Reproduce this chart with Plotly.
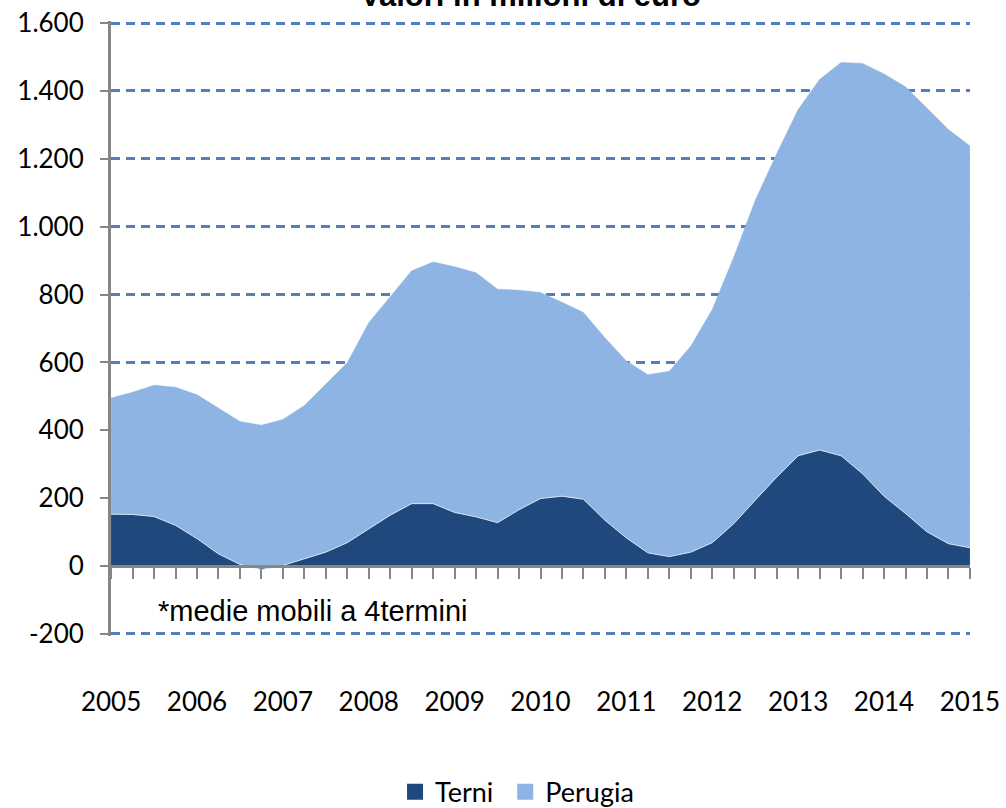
import plotly.graph_objects as go

years = list(range(2005, 2016))
year_labels = [str(y) for y in years]
quarters = [2005 + i / 4 for i in range(41)]

terni = [153, 152, 146, 120, 81, 36, 5, -10, 2, 22, 41, 69, 110, 150, 184, 184,
         158, 145, 128, 166, 199, 206, 197, 135, 83, 39, 28, 41, 69, 125, 194,
         262, 325, 342, 325, 272, 206, 155, 101, 66, 54]
perugia = [495, 512, 533, 527, 505, 465, 426, 415, 432, 473, 535, 599, 717, 795,
           870, 896, 882, 864, 816, 813, 806, 777, 747, 673, 604, 564, 574, 648,
           756, 910, 1077, 1215, 1345, 1434, 1484, 1481, 1450, 1412, 1350, 1286, 1238]
y_ticks = list(range(-200, 1601, 200))
y_labels = ["-200", "0", "200", "400", "600", "800", "1.000", "1.200", "1.400", "1.600"]

TERNI_C = "#1F497D"
PERUGIA_C = "#8EB4E3"
AXIS_C = "#868686"
GRID_C = "#4F81BD"
TICKFONT = "Lato, Open Sans, sans-serif"
ARIAL = "Liberation Sans, Arial, sans-serif"

fig = go.Figure()
fig.add_trace(go.Scatter(x=quarters, y=perugia, name="Perugia", mode="lines",
                         fill="tozeroy", fillcolor=PERUGIA_C,
                         line=dict(color=PERUGIA_C, width=0.5), showlegend=False))
fig.add_trace(go.Scatter(x=quarters, y=terni, name="Terni", mode="lines",
                         fill="tozeroy", fillcolor=TERNI_C,
                         line=dict(color="#DCE6F2", width=1), showlegend=False))
# legend keys (square swatches)
for name, col in [("Terni\u00a0", TERNI_C), ("Perugia", PERUGIA_C)]:
    fig.add_trace(go.Scatter(x=[quarters[0]], y=[None], name=name, mode="markers",
                             marker=dict(symbol="square", size=18, color=col),
                             showlegend=True, hoverinfo="skip"))

fig.update_layout(
    width=1006, height=829,
    margin=dict(l=111, r=36, t=21, b=180),
    paper_bgcolor="white", plot_bgcolor="white",
    showlegend=True,
    legend=dict(orientation="h", x=0.4727, xanchor="center", y=-0.2142, yanchor="top",
                font=dict(family=TICKFONT, size=27, color="black"),
                traceorder="normal", itemwidth=30, tracegroupgap=0),
    annotations=[
        dict(text="<b>Valori in milioni di euro</b>", xref="paper", yref="paper",
             x=0.488, y=1.0104, xanchor="center", yanchor="bottom", showarrow=False,
             font=dict(family=ARIAL, size=31, color="black")),
        dict(text="*medie mobili a 4termini", xref="x", yref="y",
             x=2005.524, y=-133, xanchor="left", yanchor="middle", showarrow=False,
             font=dict(family=ARIAL, size=29, color="black")),
    ],
)

fig.update_xaxes(
    range=[2004.999, 2015.001], tickmode="array", tickvals=years, ticktext=year_labels,
    ticks="outside", ticklen=11, tickwidth=2, tickcolor=AXIS_C,
    showline=True, linecolor=AXIS_C, linewidth=3,
    anchor="free", position=206 / 1812,
    showgrid=False, zeroline=False, automargin=False,
    minor=dict(tick0=2005, dtick=0.25, ticks="outside", ticklen=11, tickwidth=2,
               tickcolor=AXIS_C, showgrid=False),
    ticklabelstandoff=101,
    tickfont=dict(family=TICKFONT, size=26, color="black"),
)
fig.update_yaxes(
    range=[-206, 1606], tickmode="array", tickvals=y_ticks, ticktext=y_labels,
    ticks="outside", ticklen=8, tickwidth=2, tickcolor=AXIS_C,
    showline=True, linecolor=AXIS_C, linewidth=3,
    showgrid=True, gridcolor=GRID_C, gridwidth=2.5, griddash="9px,6px",
    zeroline=False, automargin=False,
    ticklabelstandoff=11,
    tickfont=dict(family=TICKFONT, size=26, color="black"),
)

fig.write_html(
    "out.html",
    config={"displayModeBar": False},
    post_script="document.body.style.margin='0';"
                "document.documentElement.style.overflow='hidden';"
                "document.body.style.overflow='hidden';",
)
